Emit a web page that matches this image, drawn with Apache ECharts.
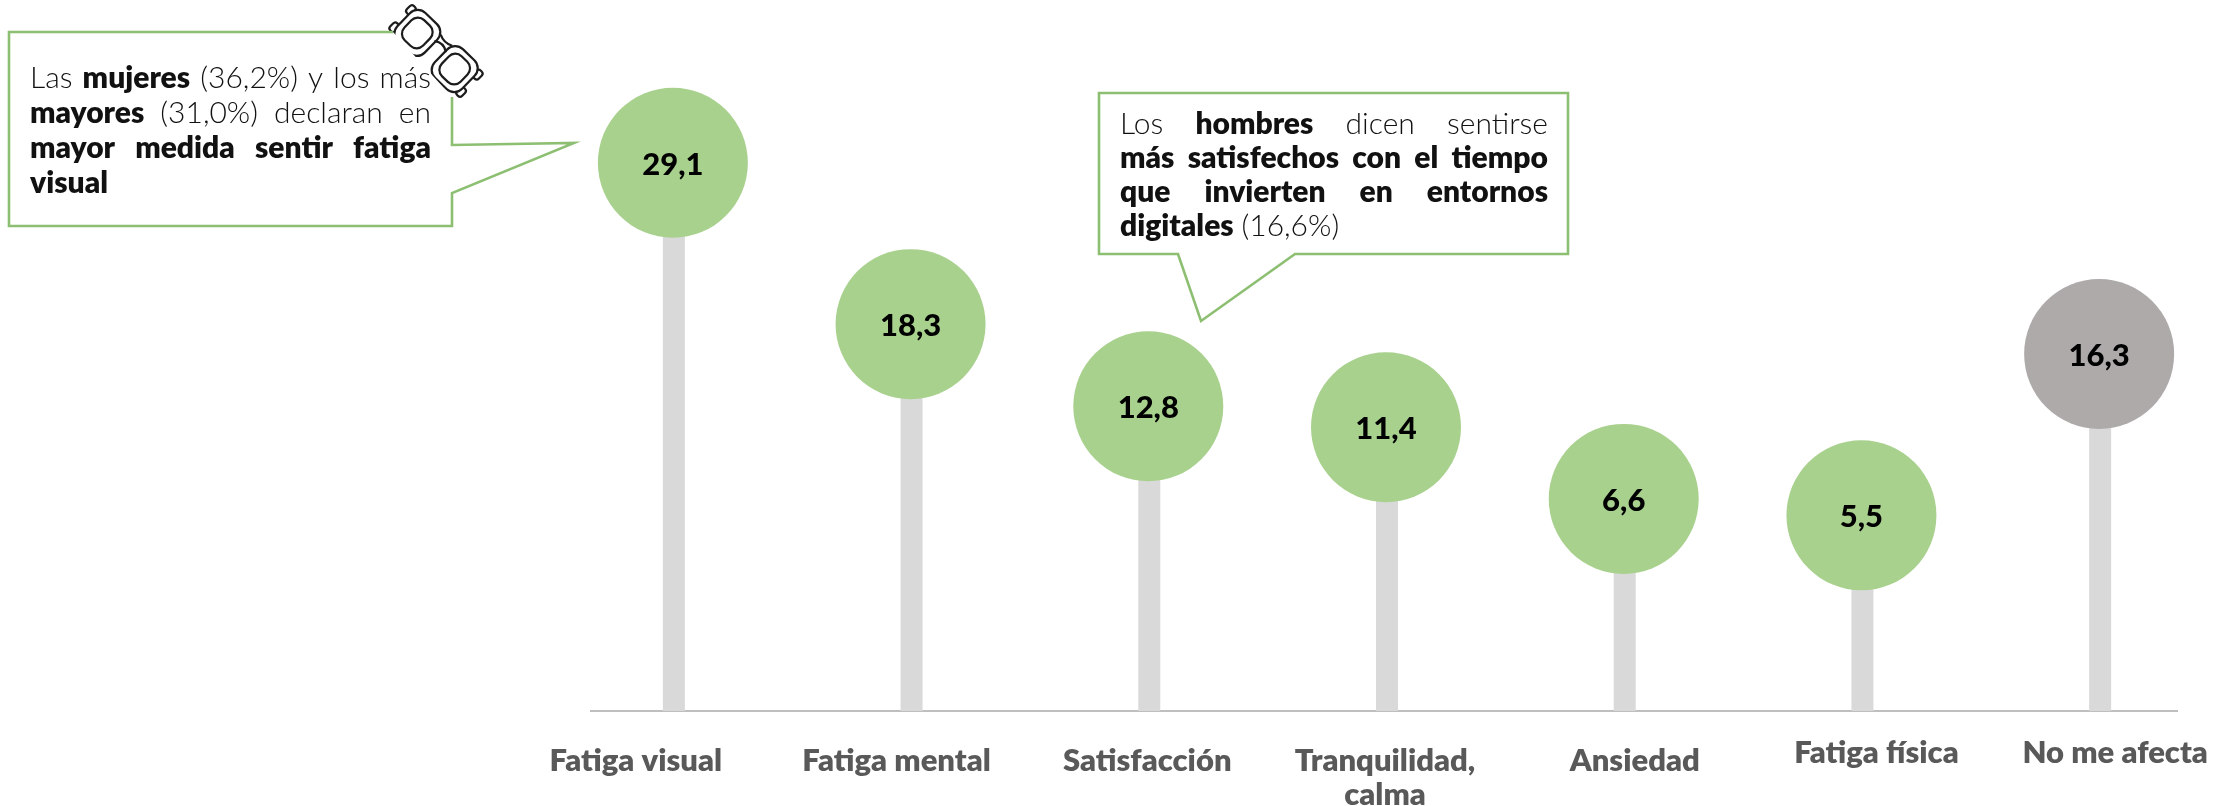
<!DOCTYPE html>
<html>
<head>
<meta charset="utf-8">
<title>Fatiga</title>
<style>
html,body{margin:0;padding:0;background:#fff;}
#chart{width:2230px;height:806px;}
</style>
<script src="https://cdn.jsdelivr.net/npm/echarts@6/dist/echarts.min.js"></script>
</head>
<body>
<div id="chart"></div>
<script>
var categories = ['Fatiga visual', 'Fatiga mental', 'Satisfacción', 'Tranquilidad,\ncalma', 'Ansiedad', 'Fatiga física', 'No me afecta'];
var values = [29.1, 18.3, 12.8, 11.4, 6.6, 5.5, 16.3];
var bubbleColors = ['#A9D18E', '#A9D18E', '#A9D18E', '#A9D18E', '#A9D18E', '#A9D18E', '#AEAAAA'];
// los rotulos no estan centrados en el original: [desplazamiento x, desplazamiento y]
var labelNudge = [[-38, 8], [-15, 8], [-2, 8], [-2, 8], [10, 8], [14, 0], [15, 0]];

var yMin = -7.6;
var yMax = 40;
var font = 'Lato';

// [palabra, negrita]
var note1 = [
    [['Las', 0], ['mujeres', 1], ['(36,2%)', 0], ['y', 0], ['los', 0], ['más', 0]],
    [['mayores', 1], ['(31,0%)', 0], ['declaran', 0], ['en', 0]],
    [['mayor', 1], ['medida', 1], ['sentir', 1], ['fatiga', 1]],
    [['visual', 1]]
];
var note2 = [
    [['Los', 0], ['hombres', 1], ['dicen', 0], ['sentirse', 0]],
    [['más', 1], ['satisfechos', 1], ['con', 1], ['el', 1], ['tiempo', 1]],
    [['que', 1], ['invierten', 1], ['en', 1], ['entornos', 1]],
    [['digitales', 1], ['(16,6%)', 0]]
];

var ctx = document.createElement('canvas').getContext('2d');
function wordFont(bold, size) {
    return (bold ? '800 ' : '300 ') + size + 'px ' + font;
}
// texto justificado, palabra a palabra
function noteWords(lines, x0, x1, firstBase, lineGap, size) {
    var out = [];
    lines.forEach(function (line, i) {
        var total = 0;
        var widths = line.map(function (w) {
            ctx.font = wordFont(w[1], size);
            var m = ctx.measureText(w[0]).width;
            total += m;
            return m;
        });
        var justified = i < lines.length - 1;
        var gap = justified ? (x1 - x0 - total) / (line.length - 1) : size * 0.26;
        var x = x0;
        line.forEach(function (w, j) {
            out.push({
                type: 'text',
                z: 20,
                style: {
                    x: x,
                    y: firstBase + i * lineGap - size * 0.3,
                    text: w[0],
                    font: wordFont(w[1], size),
                    fill: '#111',
                    textVerticalAlign: 'middle'
                }
            });
            x += widths[j] + gap;
        });
    });
    return out;
}

function glasses() {
    var st = {fill: '#fff', stroke: '#1c1c1c', lineWidth: 2.2};
    var line = {fill: 'none', stroke: '#1c1c1c', lineWidth: 2.2};
    return {
        type: 'group',
        x: 436,
        y: 51,
        rotation: -Math.PI * 44 / 180,
        z: 30,
        children: [
            {type: 'rect', shape: {x: -50, y: -17, width: 7, height: 10, r: 3}, style: st},
            {type: 'rect', shape: {x: -50, y: 7, width: 7, height: 10, r: 3}, style: st},
            {type: 'rect', shape: {x: 43, y: -17, width: 7, height: 10, r: 3}, style: st},
            {type: 'rect', shape: {x: 43, y: 7, width: 7, height: 10, r: 3}, style: st},
            {type: 'rect', shape: {x: -45, y: -20, width: 38, height: 40, r: 11}, style: st},
            {type: 'rect', shape: {x: 7, y: -20, width: 38, height: 40, r: 11}, style: st},
            {type: 'rect', shape: {x: -39, y: -14, width: 26, height: 28, r: 9}, style: st},
            {type: 'rect', shape: {x: 13, y: -14, width: 26, height: 28, r: 9}, style: st},
            {type: 'bezierCurve', shape: {x1: -8, y1: -15, cpx1: 0, cpy1: -11, x2: 8, y2: -15}, style: line},
            {type: 'bezierCurve', shape: {x1: -8, y1: -6, cpx1: 0, cpy1: -12, x2: 8, y2: -6}, style: line}
        ]
    };
}

var chartData = categories.map(function (name, i) {
    return {
        value: name,
        textStyle: {
            padding: [
                labelNudge[i][1],
                labelNudge[i][0] < 0 ? -2 * labelNudge[i][0] : 0,
                0,
                labelNudge[i][0] > 0 ? 2 * labelNudge[i][0] : 0
            ]
        }
    };
});

var myChart = echarts.init(document.getElementById('chart'));

var balloon = {color: '#8DBF72', width: 2.6};
var elements = [
    {
        type: 'polyline',
        z: 10,
        shape: {points: [[393, 32], [9, 32], [9, 226], [452, 226], [452, 193], [574, 143], [452, 145], [452, 97]]},
        style: {fill: '#fff', stroke: balloon.color, lineWidth: balloon.width}
    },
    {
        type: 'polygon',
        z: 10,
        shape: {points: [[1099, 93], [1568, 93], [1568, 254], [1295, 254], [1201, 321], [1178, 254], [1099, 254]]},
        style: {fill: '#fff', stroke: balloon.color, lineWidth: balloon.width}
    },
    {
        type: 'line',
        z: 1,
        shape: {x1: 590, y1: 711, x2: 2178, y2: 711},
        style: {stroke: '#BFBFBF', lineWidth: 2}
    },
    glasses()
].concat(noteWords(note1, 30, 431, 87, 35, 30)).concat(noteWords(note2, 1120, 1548, 133, 34, 30));

var option = {
    animation: false,
    backgroundColor: '#fff',
    textStyle: {fontFamily: font},
    grid: {left: 555, right: 11, top: 0, bottom: 95, outerBoundsMode: 'none'},
    xAxis: {
        type: 'category',
        data: chartData,
        axisLine: {show: false},
        axisTick: {show: false},
        axisLabel: {
            interval: 0,
            margin: 25,
            color: '#595959',
            fontFamily: font,
            fontWeight: 800,
            fontSize: 31,
            lineHeight: 34
        }
    },
    yAxis: {type: 'value', min: yMin, max: yMax, show: false},
    series: [
        {
            type: 'custom',
            z: 2,
            data: values.map(function (v, i) { return [i, v]; }),
            renderItem: function (params, api) {
                var top = api.coord([api.value(0), api.value(1)]);
                var base = api.coord([api.value(0), yMin]);
                return {
                    type: 'rect',
                    shape: {x: top[0] - 11, y: top[1], width: 22, height: base[1] - top[1]},
                    style: {fill: '#D9D9D9'}
                };
            }
        },
        {
            type: 'scatter',
            z: 3,
            symbolSize: 150,
            symbolOffset: [-1, 0],
            data: values.map(function (v, i) {
                return {value: v, itemStyle: {color: bubbleColors[i], opacity: 1}};
            }),
            label: {
                show: true,
                position: 'inside',
                offset: [0, 2],
                color: '#000',
                fontFamily: font,
                fontWeight: 900,
                fontSize: 31,
                formatter: function (p) {
                    return String(p.value).replace('.', ',');
                }
            }
        }
    ],
    graphic: {elements: elements}
};
myChart.setOption(option);
</script>
</body>
</html>
